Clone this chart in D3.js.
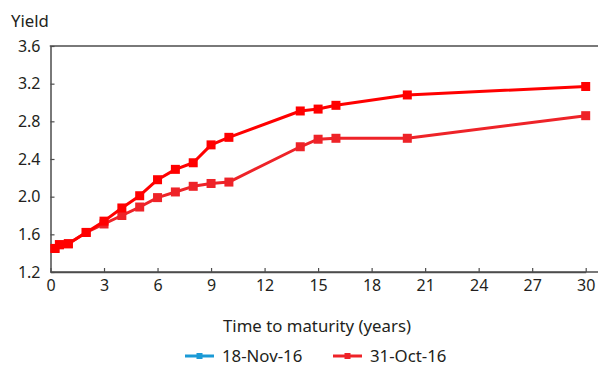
<!DOCTYPE html>
<html>
<head>
<meta charset="utf-8">
<script src="https://cdn.jsdelivr.net/npm/d3@7"></script>
<style>
  html, body { margin: 0; padding: 0; background: #fff; }
  svg text { font-family: "Noto Sans", Lato, sans-serif; fill: #231f20; }
</style>
</head>
<body>
<svg id="chart" width="598" height="370"></svg>
<script>
// Government bond yield curve, two dates
const maturities = [0.25, 0.5, 1, 2, 3, 4, 5, 6, 7, 8, 9, 10, 14, 15, 16, 20, 30];
const yieldsNov18 = [1.45, 1.49, 1.50, 1.62, 1.74, 1.88, 2.01, 2.18, 2.29, 2.36, 2.55, 2.63, 2.91, 2.93, 2.97, 3.08, 3.17];
const yieldsOct31 = [1.45, 1.49, 1.50, 1.62, 1.71, 1.80, 1.89, 1.99, 2.05, 2.11, 2.14, 2.155, 2.53, 2.61, 2.62, 2.62, 2.86];
const xTicks = [0, 3, 6, 9, 12, 15, 18, 21, 24, 27, 30];
const yTicks = [1.2, 1.6, 2.0, 2.4, 2.8, 3.2, 3.6];
const seriesNames = ["18-Nov-16", "31-Oct-16"];

const svg = d3.select("#chart");
const x = d3.scaleLinear().domain([0, 30]).range([50.5, 585.7]);
const y = d3.scaleLinear().domain([1.2, 3.6]).range([272, 46]);
const axisColor = "#4d4d4d";
const fontFamily = "'Noto Sans', Lato, sans-serif";
const tickSize = 16;
const labelSize = 16.8;

// y axis with inward ticks
const yAxis = svg.append("g").attr("transform", `translate(${x(0)},0)`)
  .call(d3.axisLeft(y).tickValues(yTicks).tickFormat(d3.format(".1f")).tickSizeInner(-4).tickSizeOuter(0).tickPadding(10));
yAxis.select(".domain").attr("stroke", axisColor).attr("stroke-width", 1.5);
yAxis.selectAll(".tick line").attr("stroke", axisColor).attr("stroke-width", 1.2);
yAxis.selectAll(".tick text").attr("font-size", tickSize).attr("fill", "#231f20").attr("font-family", fontFamily);

// x axis with inward ticks
const xAxis = svg.append("g").attr("transform", `translate(0,${y(1.2)})`)
  .call(d3.axisBottom(x).tickValues(xTicks).tickSizeInner(-4).tickSizeOuter(0).tickPadding(8));
xAxis.select(".domain").attr("stroke", axisColor).attr("stroke-width", 1.5);
xAxis.selectAll(".tick line").attr("stroke", axisColor).attr("stroke-width", 1.2);
xAxis.selectAll(".tick text").attr("font-size", tickSize).attr("fill", "#231f20").attr("font-family", fontFamily);

// extend axis lines to the right edge and draw the top frame line
svg.append("line").attr("x1", x(0)).attr("x2", 598).attr("y1", y(1.2)).attr("y2", y(1.2))
  .attr("stroke", axisColor).attr("stroke-width", 1.5);
svg.append("line").attr("x1", x(0) - 0.75).attr("x2", 598).attr("y1", y(3.6)).attr("y2", y(3.6))
  .attr("stroke", axisColor).attr("stroke-width", 1.5);

svg.append("text").attr("x", 11).attr("y", 27).attr("font-size", labelSize).text("Yield");
svg.append("text").attr("x", 317).attr("y", 332).attr("text-anchor", "middle").attr("font-size", labelSize)
  .text("Time to maturity (years)");

const line = d3.line().x(d => x(d[0])).y(d => y(d[1]));
const series = [
  { name: seriesNames[1], values: yieldsOct31, color: "#ee2328" },
  { name: seriesNames[0], values: yieldsNov18, color: "#ff0000" }
];
series.forEach(s => {
  const pts = maturities.map((m, i) => [m, s.values[i]]);
  svg.append("path").datum(pts).attr("d", line).attr("fill", "none")
    .attr("stroke", s.color).attr("stroke-width", 3).attr("stroke-linejoin", "round");
  svg.append("g").selectAll("rect").data(pts).join("rect")
    .attr("x", d => x(d[0]) - 4.5).attr("y", d => y(d[1]) - 4.5)
    .attr("width", 9).attr("height", 9).attr("fill", s.color);
});

// legend
const legendItems = [
  { name: seriesNames[0], color: "#1b9ad6", x: 185 },
  { name: seriesNames[1], color: "#ee2328", x: 333 }
];
const lg = svg.append("g").selectAll("g").data(legendItems).join("g")
  .attr("transform", d => `translate(${d.x},356)`);
lg.append("line").attr("x1", 0).attr("x2", 29).attr("stroke", d => d.color).attr("stroke-width", 3);
lg.append("rect").attr("x", 11.5).attr("y", -3).attr("width", 6).attr("height", 6).attr("fill", d => d.color);
lg.append("text").attr("x", 37).attr("y", 6).attr("font-size", labelSize).text(d => d.name);
</script>
</body>
</html>
